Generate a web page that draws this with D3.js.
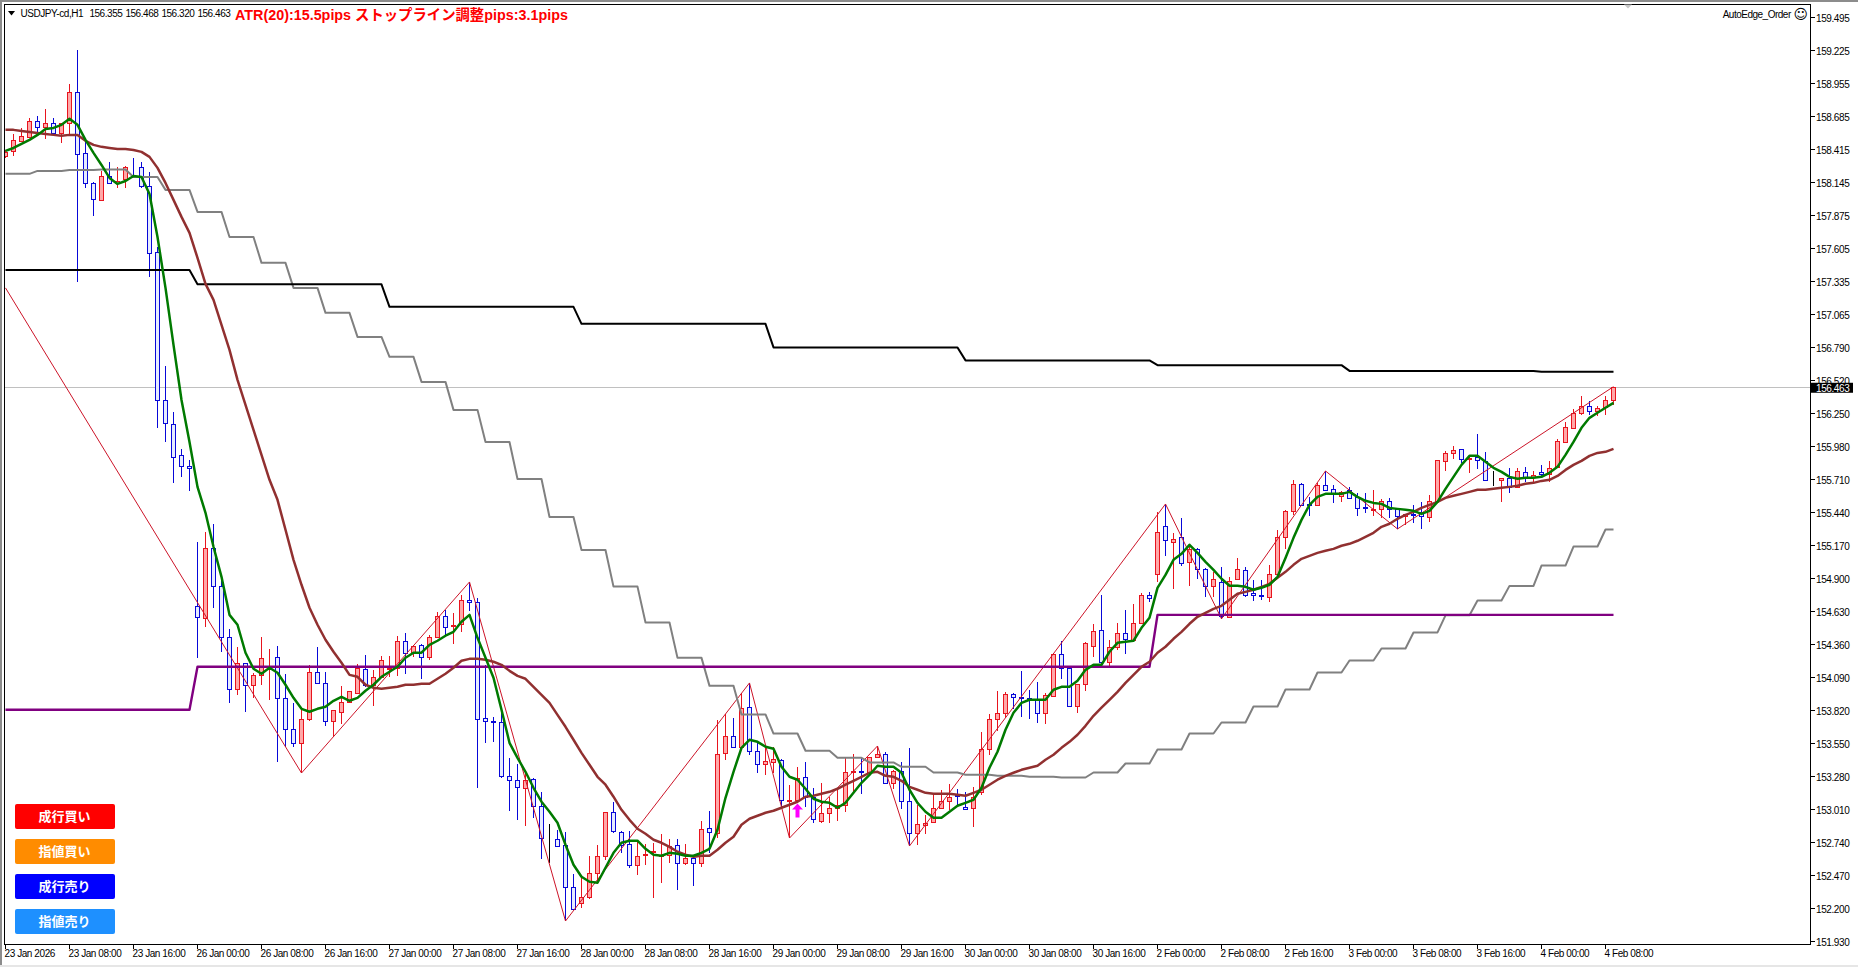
<!DOCTYPE html>
<html><head><meta charset="utf-8">
<script src="https://cdn.jsdelivr.net/npm/d3@7/dist/d3.min.js"></script>
<style>html,body{margin:0;padding:0;background:#fff;overflow:hidden}svg{display:block}</style>
</head><body><svg id="c" width="1858" height="967"></svg>
<script>
const timeLabels=["23 Jan 2026","23 Jan 08:00","23 Jan 16:00","26 Jan 00:00","26 Jan 08:00","26 Jan 16:00","27 Jan 00:00","27 Jan 08:00","27 Jan 16:00","28 Jan 00:00","28 Jan 08:00","28 Jan 16:00","29 Jan 00:00","29 Jan 08:00","29 Jan 16:00","30 Jan 00:00","30 Jan 08:00","30 Jan 16:00","2 Feb 00:00","2 Feb 08:00","2 Feb 16:00","3 Feb 00:00","3 Feb 08:00","3 Feb 16:00","4 Feb 00:00","4 Feb 08:00"];
const priceTicks=[159.495,159.225,158.955,158.685,158.415,158.145,157.875,157.605,157.335,157.065,156.79,156.52,156.25,155.98,155.71,155.44,155.17,154.9,154.63,154.36,154.09,153.82,153.55,153.28,153.01,152.74,152.47,152.2,151.93];
const opens=[158.356,158.397,158.479,158.511,158.642,158.593,158.626,158.544,158.626,158.879,158.381,158.135,157.996,158.192,158.135,158.168,158.192,158.266,158.110,157.571,156.359,156.163,155.909,155.819,154.674,154.576,155.148,154.838,154.420,153.995,154.208,154.028,154.110,154.253,154.257,153.921,153.668,153.553,153.750,154.134,154.044,153.733,153.807,153.889,153.962,154.159,154.028,154.093,154.159,154.167,154.388,154.290,154.355,154.257,154.420,154.592,154.510,154.527,154.723,154.707,153.758,153.733,153.725,153.283,153.250,153.184,153.258,153.037,152.767,152.767,152.718,152.374,152.243,152.292,152.489,152.628,152.988,152.825,152.726,152.554,152.637,152.661,152.628,152.637,152.718,152.571,152.612,152.571,152.857,152.816,153.471,153.610,153.520,153.848,153.487,153.381,153.398,153.414,153.078,153.086,153.275,153.111,152.914,152.980,153.021,153.045,153.316,153.324,153.307,153.438,153.463,153.226,153.324,153.078,152.816,152.882,152.906,153.021,153.078,153.127,153.029,153.021,153.151,153.504,153.750,153.799,153.954,153.930,153.921,153.905,153.799,153.938,154.282,154.167,153.856,154.036,154.347,154.478,154.216,154.338,154.453,154.396,154.535,154.764,154.936,155.328,155.197,155.238,155.034,155.140,154.977,154.838,154.870,154.584,154.895,154.969,154.780,154.764,154.748,154.936,155.238,155.451,155.672,155.508,155.500,155.664,155.631,155.574,155.623,155.566,155.484,155.459,155.467,155.533,155.467,155.410,155.426,155.443,155.402,155.533,155.860,155.925,155.958,155.876,155.893,155.860,155.696,155.705,155.721,155.647,155.770,155.729,155.770,155.754,155.811,156.015,156.130,156.253,156.310,156.269,156.302,156.355];
const highs=[158.405,158.536,158.585,158.667,158.683,158.740,158.667,158.626,158.945,159.223,158.470,158.143,158.233,158.307,158.266,158.274,158.340,158.307,158.225,157.611,156.637,156.261,155.958,155.868,155.197,155.279,155.345,154.911,154.486,154.338,154.208,154.126,154.420,154.322,154.347,154.118,153.880,153.823,154.191,154.338,154.134,153.823,154.019,153.979,154.200,154.273,154.151,154.265,154.265,154.429,154.453,154.355,154.363,154.437,154.625,154.641,154.617,154.764,154.870,154.739,154.191,153.766,153.799,153.430,153.381,153.332,153.267,153.151,152.890,152.841,152.825,152.481,152.456,152.628,152.718,152.988,153.070,152.832,152.832,152.743,152.726,152.735,152.808,152.767,152.767,152.726,152.637,152.914,152.996,153.741,153.791,153.758,153.962,154.044,153.553,153.520,153.520,153.422,153.209,153.356,153.398,153.184,153.226,153.111,153.168,153.430,153.463,153.438,153.438,153.528,153.479,153.332,153.398,153.512,153.045,152.963,153.143,153.168,153.217,153.176,153.151,153.193,153.643,153.791,153.979,153.970,153.962,154.142,153.987,154.052,153.962,154.290,154.388,154.167,154.036,154.380,154.527,154.764,154.396,154.535,154.641,154.690,154.780,154.788,155.443,155.508,155.271,155.394,155.173,155.148,154.985,154.952,154.993,154.911,155.067,154.993,154.887,154.887,155.009,155.296,155.459,155.705,155.680,155.566,155.680,155.778,155.664,155.615,155.647,155.598,155.598,155.623,155.549,155.557,155.476,155.426,155.500,155.525,155.582,155.868,155.942,155.983,155.958,155.893,156.081,155.933,155.778,155.721,155.803,155.803,155.811,155.778,155.827,155.860,156.040,156.179,156.285,156.392,156.351,156.310,156.392,156.468];
const lows=[158.340,158.356,158.470,158.511,158.528,158.495,158.528,158.462,158.528,157.325,158.094,157.865,157.996,158.135,158.094,158.094,158.184,158.094,157.366,156.130,156.015,155.680,155.729,155.615,154.249,154.502,154.658,154.298,153.880,153.946,153.807,153.921,154.028,153.905,153.398,153.520,153.520,153.307,153.733,154.044,153.692,153.602,153.709,153.880,153.962,154.011,153.856,154.085,154.093,154.101,154.118,154.257,154.077,154.232,154.412,154.429,154.363,154.461,154.633,153.184,153.553,153.561,153.267,152.996,152.922,152.873,152.939,152.604,152.571,152.702,152.096,152.186,152.202,152.276,152.415,152.596,152.816,152.653,152.530,152.473,152.554,152.284,152.407,152.571,152.350,152.554,152.383,152.538,152.653,152.775,153.414,153.520,153.512,153.455,153.307,153.291,153.307,153.029,152.775,153.070,153.029,152.898,152.898,152.898,152.914,152.988,153.143,153.135,153.291,153.430,153.226,153.176,153.013,152.710,152.718,152.808,152.898,153.013,153.004,153.045,153.004,152.865,153.127,153.455,153.651,153.758,153.831,153.766,153.750,153.717,153.709,153.930,154.077,153.848,153.799,153.979,154.257,154.208,154.167,154.314,154.282,154.388,154.527,154.707,154.870,155.083,154.813,155.001,154.838,154.895,154.748,154.748,154.568,154.576,154.887,154.748,154.715,154.723,154.707,154.936,155.140,155.418,155.500,155.410,155.492,155.623,155.516,155.525,155.549,155.410,155.435,155.410,155.394,155.394,155.304,155.336,155.353,155.304,155.361,155.533,155.778,155.876,155.843,155.762,155.795,155.696,155.655,155.525,155.598,155.647,155.688,155.680,155.729,155.688,155.803,156.007,156.122,156.236,156.236,156.228,156.236,156.320];
const closes=[158.389,158.487,158.520,158.642,158.593,158.626,158.544,158.626,158.879,158.372,158.135,158.004,158.192,158.135,158.151,158.266,158.184,158.110,157.562,156.359,156.171,155.893,155.819,155.803,154.584,155.148,154.838,154.420,153.995,154.208,154.028,154.110,154.249,154.257,153.921,153.668,153.553,153.750,154.134,154.044,153.733,153.823,153.889,153.979,154.167,154.028,154.093,154.232,154.167,154.388,154.290,154.347,154.257,154.420,154.592,154.502,154.518,154.723,154.707,153.750,153.733,153.725,153.283,153.250,153.193,153.250,153.037,152.775,152.767,152.710,152.374,152.194,152.292,152.489,152.628,152.988,152.832,152.718,152.554,152.628,152.645,152.669,152.637,152.710,152.571,152.612,152.571,152.849,152.825,153.463,153.610,153.520,153.839,153.487,153.381,153.406,153.422,153.086,153.086,153.267,153.111,152.930,152.980,153.021,153.045,153.316,153.324,153.316,153.438,153.463,153.226,153.324,153.078,152.816,152.890,152.898,153.021,153.078,153.111,153.119,153.013,153.111,153.504,153.750,153.799,153.954,153.930,153.921,153.905,153.799,153.946,154.282,154.167,153.856,154.036,154.372,154.470,154.216,154.338,154.453,154.404,154.535,154.764,154.739,155.279,155.214,155.222,155.026,155.140,154.977,154.838,154.895,154.592,154.878,154.977,154.764,154.764,154.756,154.936,155.238,155.451,155.672,155.500,155.500,155.664,155.623,155.590,155.606,155.557,155.476,155.476,155.467,155.533,155.467,155.410,155.426,155.418,155.410,155.533,155.868,155.925,155.950,155.876,155.885,155.868,155.705,155.696,155.721,155.647,155.778,155.721,155.745,155.754,155.803,156.024,156.139,156.253,156.310,156.269,156.294,156.359,156.463];
const fastMA=[158.397,158.421,158.454,158.487,158.528,158.577,158.585,158.610,158.659,158.610,158.487,158.381,158.282,158.176,158.127,158.151,158.192,158.184,158.045,157.693,157.276,156.810,156.359,156.016,155.648,155.436,155.158,154.912,154.601,154.520,154.291,154.160,154.119,154.168,154.127,154.029,153.922,153.832,153.808,153.832,153.849,153.898,153.930,153.898,153.922,153.980,154.029,154.094,154.135,154.176,154.250,154.291,154.291,154.356,154.389,154.430,154.462,154.544,154.601,154.413,154.250,154.086,153.824,153.554,153.431,153.317,153.186,153.072,152.990,152.900,152.720,152.556,152.458,152.417,152.409,152.532,152.654,152.736,152.753,152.753,152.687,152.638,152.630,152.654,152.646,152.630,152.630,152.654,152.687,152.843,153.104,153.317,153.513,153.579,153.562,153.522,153.505,153.358,153.276,153.252,153.178,153.096,153.072,153.063,153.023,153.063,153.145,153.227,153.292,153.366,153.358,153.358,153.309,153.170,153.063,152.990,152.941,152.941,152.990,153.039,153.063,153.088,153.186,153.350,153.481,153.661,153.800,153.881,153.906,153.906,153.906,153.988,154.012,154.012,154.061,154.151,154.192,154.192,154.299,154.372,154.380,154.389,154.495,154.577,154.822,154.928,155.051,155.100,155.174,155.108,155.035,154.969,154.896,154.839,154.839,154.830,154.806,154.822,154.847,154.912,155.067,155.231,155.378,155.501,155.566,155.591,155.591,155.591,155.607,155.566,155.534,155.517,155.509,155.476,155.468,155.460,155.452,155.427,155.452,155.525,155.632,155.730,155.828,155.902,155.902,155.853,155.804,155.771,155.730,155.714,155.722,155.722,155.730,155.763,155.812,155.910,156.016,156.131,156.213,156.254,156.295,156.335];
const slowMA=[158.569,158.569,158.560,158.552,158.544,158.536,158.528,158.520,158.528,158.528,158.479,158.446,158.430,158.421,158.413,158.413,158.405,158.389,158.348,158.258,158.135,157.996,157.857,157.726,157.522,157.309,157.178,156.974,156.769,156.524,156.319,156.115,155.910,155.706,155.542,155.297,155.051,154.847,154.659,154.520,154.397,154.299,154.209,154.110,154.094,154.029,154.004,153.996,154.004,154.012,154.029,154.029,154.037,154.037,154.078,154.119,154.168,154.225,154.241,154.241,154.233,154.217,154.192,154.143,154.102,154.078,154.012,153.947,153.881,153.783,153.685,153.579,153.472,153.374,153.276,153.211,153.113,153.006,152.924,152.851,152.810,152.761,152.736,152.703,152.663,152.638,152.622,152.630,152.630,152.679,152.736,152.785,152.884,152.933,152.957,152.982,152.998,153.023,153.047,153.072,153.113,153.121,153.137,153.153,153.178,153.211,153.243,153.276,153.309,153.317,153.284,153.276,153.243,153.194,153.170,153.145,153.137,153.137,153.137,153.129,153.121,153.145,153.170,153.211,153.252,153.284,153.309,153.333,153.350,153.366,153.415,153.456,153.513,153.562,153.620,153.693,153.775,153.841,153.906,153.971,154.045,154.110,154.176,154.217,154.291,154.340,154.405,154.462,154.528,154.585,154.618,154.650,154.675,154.724,154.773,154.789,154.806,154.830,154.855,154.904,154.953,155.010,155.059,155.084,155.108,155.125,155.141,155.166,155.182,155.207,155.239,155.272,155.321,155.346,155.387,155.419,155.444,155.476,155.501,155.525,155.558,155.575,155.591,155.607,155.624,155.624,155.632,155.640,155.648,155.657,155.673,155.681,155.697,155.706,155.738,155.787,155.828,155.861,155.902,155.926,155.935,155.959];
const grayLevels=[158.209,158.233,158.241,158.245,158.184,158.078,157.898,157.693,157.481,157.276,157.072,156.875,156.712,156.507,156.278,156.015,155.713,155.402,155.132,154.832,154.538,154.249,154.020,153.786,153.630,153.489,153.431,153.393,153.358,153.311,153.292,153.284,153.276,153.270,153.311,153.385,153.499,153.630,153.720,153.851,153.990,154.129,154.228,154.326,154.457,154.597,154.718,154.838,155.004,155.160,155.299];
const blackLevels=[157.423,157.305,157.121,156.982,156.789,156.683,156.644,156.597,156.589];
const purpleLevels=[153.824,154.176,154.601];
const purpleStarts=[0,24,144];
const zigzagBars=[0,37,58,70,93,98,109,113,145,152,165,174,201];
const zigzagPrices=[157.276,153.307,154.870,152.096,154.044,152.775,153.528,152.710,155.508,154.568,155.778,155.304,156.468];
const buttonLabels=["成行買い","指値買い","成行売り","指値売り"];
const buttonColors=["#ff0000","#ff8c00","#0000ff","#1e90ff"];
const lastPrice=156.463, arrowBar=99, arrowPrice=153.0;
const header="USDJPY-cd,H1";
const headerOHLC=["156.355","156.468","156.320","156.463"];
const atrText="ATR(20):15.5pips ストップライン調整pips:3.1pips";

const svg=d3.select("#c");
const x=d3.scaleLinear().domain([0,201]).range([5.5,1613.5]);
const y=d3.scaleLinear().domain([154.63,156.79]).range([611.3,347.3]);
const L=4.5,R=1810.5,T=4.5,B=944.5;
const font='"Liberation Sans",Arial,sans-serif';
// window edges
svg.append("rect").attr("width",1858).attr("height",2).attr("fill","#8c8c8c");
svg.append("rect").attr("width",2).attr("height",967).attr("fill","#8c8c8c");
svg.append("rect").attr("y",965).attr("width",1858).attr("height",2).attr("fill","#e6e6e6");
const defs=svg.append("defs");
defs.append("clipPath").attr("id","pl").append("rect").attr("x",L).attr("y",T).attr("width",R-L).attr("height",B-T);
const plot=svg.append("g").attr("clip-path","url(#pl)");
// last price line
plot.append("line").attr("x1",L).attr("x2",R).attr("y1",Math.round(y(lastPrice))+.5).attr("y2",Math.round(y(lastPrice))+.5).attr("stroke","#c0c0c0");
// candles
const bars=d3.range(opens.length);
const col=i=>closes[i]>opens[i]?"#e8141e":closes[i]<opens[i]?"#0808d8":"#000000";
const fillc=i=>closes[i]>opens[i]?"#ffa8a8":closes[i]<opens[i]?"#e6ecff":"#000000";
const cg=plot.append("g").attr("shape-rendering","crispEdges");
cg.selectAll("line").data(bars).join("line").attr("x1",i=>x(i)).attr("x2",i=>x(i)).attr("y1",i=>y(highs[i])).attr("y2",i=>y(lows[i])).attr("stroke",col);
cg.selectAll("rect").data(bars).join("rect")
 .attr("x",i=>x(i)-2).attr("width",4)
 .attr("y",i=>Math.round(y(Math.max(opens[i],closes[i])))+.5)
 .attr("height",i=>Math.max(0,Math.round(y(Math.min(opens[i],closes[i])))-Math.round(y(Math.max(opens[i],closes[i])))))
 .attr("fill",fillc).attr("stroke",col);
const line=d3.line().x(d=>x(d[0])).y(d=>y(d[1]));
const steps=(vals,n)=>vals.flatMap((v,k)=>[[k*n,v],[Math.min(k*n+n-1,201),v]]);
const draw=(pts,c,w)=>plot.append("path").attr("d",line(pts)).attr("fill","none").attr("stroke",c).attr("stroke-width",w).attr("stroke-linejoin","round");
draw(zigzagBars.map((b,i)=>[b,zigzagPrices[i]]),"#cc1428",1);
draw(steps(grayLevels,4),"#808080",2);
draw(steps(blackLevels,24),"#000000",2);
draw(purpleLevels.flatMap((v,k)=>[[purpleStarts[k],v],[k<2?purpleStarts[k+1]-1:201,v]]),"#800080",2.4);
draw(slowMA.map((v,i)=>[i,v]),"#913030",2.5);
draw(fastMA.map((v,i)=>[i,v]),"#007a00",2.5);
// arrow
const ax=x(arrowBar),ay=y(arrowPrice);
plot.append("path").attr("d",`M${ax},${ay-7}l5.5,6h-3.5v8h-4v-8h-3.5z`).attr("fill","#ff00ff");
// frame
svg.append("path").attr("d",`M${L},${B}V${T}H${R}V${B}H${L}`).attr("fill","none").attr("stroke","#000").attr("shape-rendering","crispEdges");
// y axis
const yg=svg.append("g").attr("font-family",font).attr("font-size",10).attr("fill","#000");
yg.selectAll("line").data(priceTicks).join("line").attr("x1",R).attr("x2",R+4).attr("y1",d=>Math.round(y(d))+.5).attr("y2",d=>Math.round(y(d))+.5).attr("stroke","#000").attr("shape-rendering","crispEdges");
yg.selectAll("text").data(priceTicks).join("text").attr("x",1816).attr("y",d=>y(d)+5).attr("letter-spacing",-0.4).text(d=>d.toFixed(3));
svg.append("rect").attr("x",1811).attr("y",y(lastPrice)-4.5).attr("width",42).attr("height",10).attr("fill","#000");
svg.append("text").attr("x",1816).attr("y",y(lastPrice)+4.3).attr("font-family",font).attr("font-size",10).attr("letter-spacing",-0.4).attr("fill","#fff").text(lastPrice.toFixed(3));
// x axis
const xg=svg.append("g").attr("font-family",font).attr("font-size",10).attr("fill","#000");
const tickBars=timeLabels.map((_,k)=>k*8);
xg.selectAll("line").data(tickBars).join("line").attr("x1",d=>x(d)).attr("x2",d=>x(d)).attr("y1",B).attr("y2",B+4).attr("stroke","#000").attr("shape-rendering","crispEdges");
xg.selectAll("text").data(tickBars).join("text").attr("x",d=>x(d)-1).attr("y",957).attr("letter-spacing",-0.42).text((d,k)=>timeLabels[k]);
// header
svg.append("path").attr("d","M8,11h7l-3.5,4.5z").attr("fill","#000");
const hg=svg.append("g").attr("font-family",font).attr("font-size",10).attr("fill","#000").attr("letter-spacing",-0.45);
hg.append("text").attr("x",20.5).attr("y",16.5).text(header);
hg.selectAll(".o").data(headerOHLC).join("text").attr("class","o").attr("x",(d,i)=>89.4+36*i).attr("y",16.5).text(d=>d);
svg.append("text").attr("x",235).attr("y",19.5).attr("font-family",'"Liberation Sans","Noto Sans CJK JP",sans-serif').attr("font-weight","bold").attr("font-size",14.35).attr("fill","#ff0000").text(atrText);
svg.append("text").attr("x",1722.7).attr("y",17.5).attr("font-family",font).attr("font-size",10).attr("letter-spacing",-0.5).attr("fill","#000").text("AutoEdge_Order");
svg.append("text").attr("x",1793.5).attr("y",19).attr("font-family",'"DejaVu Sans"').attr("font-size",14).attr("fill","#000").text("☺");
// chart-shift marker
svg.append("path").attr("d","M1624,4.5h8l-4,4z").attr("fill","#c8c8c8");
// buttons
const bg=svg.append("g");
const by=k=>804+35*k;
bg.selectAll("rect").data(buttonLabels).join("rect").attr("x",15).attr("y",(d,k)=>by(k)).attr("width",100).attr("height",25).attr("rx",2).attr("fill",(d,k)=>buttonColors[k]);
bg.selectAll("text").data(buttonLabels).join("text").attr("x",64.5).attr("y",(d,k)=>by(k)+17).attr("text-anchor","middle").attr("font-family",'"Noto Sans CJK JP"').attr("font-weight","bold").attr("font-size",13).attr("fill","#fff").text(d=>d);
</script></body></html>
